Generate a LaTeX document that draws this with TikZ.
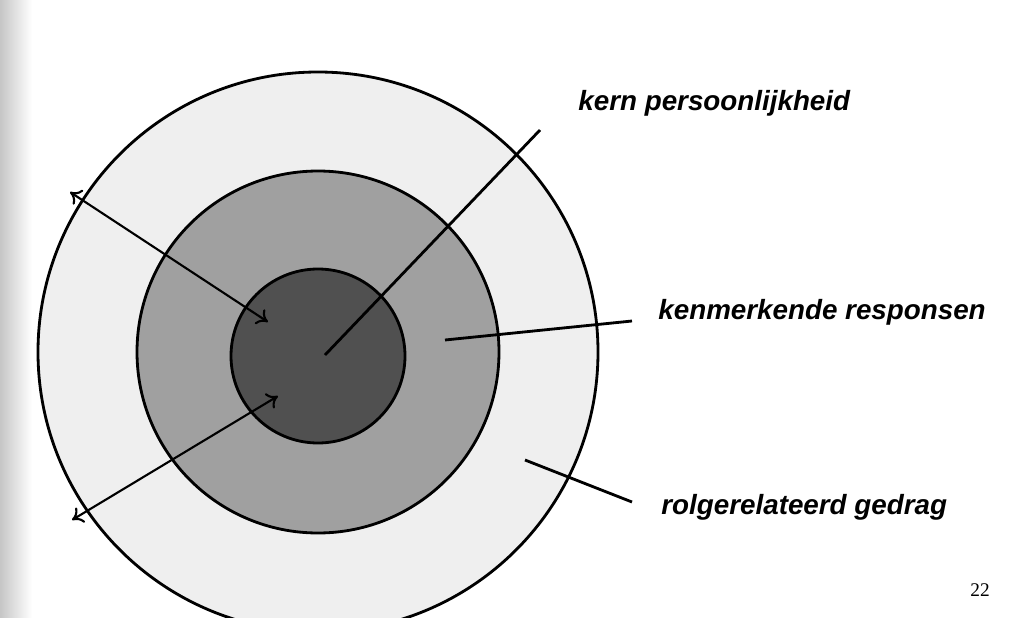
\documentclass[tikz,border=0pt]{standalone}
\usepackage{fontspec}
\setmainfont{Liberation Sans}
\newfontfamily\pagefont{Liberation Serif}
\usetikzlibrary{arrows.meta}
\definecolor{outerring}{HTML}{EFEFEF}
\definecolor{midring}{HTML}{A0A0A0}
\definecolor{corering}{HTML}{505050}
\begin{document}
\begin{tikzpicture}[x=0.01cm,y=-0.01cm,
    ring/.style={circle, draw=black, thick, inner sep=0pt},
    lbl/.style={anchor=west, font=\fontsize{7.9}{9}\selectfont\bfseries\itshape},
    pointer/.style={thick},
    twoway/.style={semithick, {To[length=3pt,width=5pt]}-{To[length=3pt,width=5pt]}}
  ]
  \useasboundingbox (0,0) rectangle (1036,618);
  \fill[white] (0,0) rectangle (1036,618);
  \shade[left color=gray!45, right color=white] (0,0) rectangle (32,618);

  % Rings
  \begin{scope}
    \clip (0,0) rectangle (1036,618);
    \node[ring, fill=outerring, minimum size=560*0.01cm] (outer) at (318,352) {};
  \end{scope}
  \node[ring, fill=midring, minimum size=362*0.01cm] (mid) at (318,352) {};
  \node[ring, fill=corering, minimum size=174*0.01cm] (core) at (318,356) {};

  % Arrow ends
  \coordinate (a1) at (70,192);
  \coordinate (a2) at (268,322);
  \coordinate (b1) at (72,520);
  \coordinate (b2) at (278,396);
  \draw[twoway] (a1) -- (a2);
  \draw[twoway] (b1) -- (b2);

  % Labels
  \node[lbl] (kern) at (566,103) {kern persoonlijkheid};
  \node[lbl] (kenm) at (646,312) {kenmerkende responsen};
  \node[lbl] (rol) at (649,507) {rolgerelateerd gedrag};
  \node[font=\fontsize{5.5}{6}\selectfont\pagefont] (page) at (980,590) {22};

  % Pointer lines
  \coordinate (p1) at (325,355);
  \coordinate (q1) at (540,130);
  \coordinate (p2) at (445,340);
  \coordinate (q2) at (632,321);
  \coordinate (p3) at (525,460);
  \coordinate (q3) at (632,502);
  \draw[pointer] (p1) -- (q1);
  \draw[pointer] (p2) -- (q2);
  \draw[pointer] (p3) -- (q3);
\end{tikzpicture}
\end{document}
